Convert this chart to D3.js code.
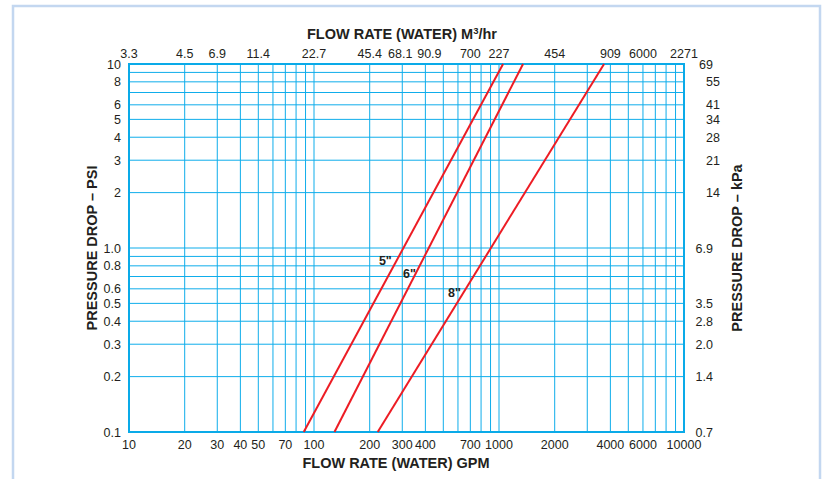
<!DOCTYPE html>
<html lang="en">
<head>
<meta charset="UTF-8">
<title>Pressure drop chart</title>
<style>
  html, body { margin: 0; padding: 0; background: #fff; }
  svg { display: block; }
  text { font-family: "Liberation Sans", Arial, Helvetica, sans-serif; fill: #231f20; }
</style>
</head>
<body>
<svg id="chart" width="823" height="479"></svg>
<script src="https://d3js.org/d3.v7.min.js"></script>
<script>
// bottom axis (GPM)
const gpmTicks = [10, 20, 30, 40, 50, 70, 100, 200, 300, 400, 700, 1000, 2000, 4000, 6000, 10000];
// top axis labels (as printed) and the GPM values they sit at
const m3hrLabels = ["3.3", "4.5", "6.9", "11.4", "22.7", "45.4", "68.1", "90.9", "700", "227", "454", "909", "6000", "2271"];
const m3hrAt = [10, 20, 30, 50, 100, 200, 300, 400, 700, 1000, 2000, 4000, 6000, 10000];
// left axis (PSI)
const psiTicks = [10, 8, 6, 5, 4, 3, 2, 1, 0.8, 0.6, 0.5, 0.4, 0.3, 0.2, 0.1];
const psiLabels = ["10", "8", "6", "5", "4", "3", "2", "1.0", "0.8", "0.6", "0.5", "0.4", "0.3", "0.2", "0.1"];
// right axis (kPa) and the PSI values they sit at
const kpaLabels = ["69", "55", "41", "34", "28", "21", "14", "6.9", "3.5", "2.8", "2.0", "1.4", "0.7"];
const kpaAt = [10, 8, 6, 5, 4, 3, 2, 1, 0.5, 0.4, 0.3, 0.2, 0.1];

// pipe curves: flow (GPM) at 0.1 psi and at 10 psi
const pipes = ["5\"", "6\"", "8\""];
const gpmAtLow = [88, 129, 221];
const gpmAtHigh = [1052, 1349, 3698];
// where each pipe label sits (GPM, PSI)
const labelGpm = [243, 328, 574];
const labelPsi = [0.81, 0.69, 0.54];

const svg = d3.select("#chart");
const plotL = 129, plotR = 684, plotT = 64, plotB = 432;

const x = d3.scaleLog().domain([10, 10000]).range([plotL, plotR]);
const y = d3.scaleLog().domain([0.1, 10]).range([plotB, plotT]);

// outer frame
svg.append("rect")
  .attr("x", 13).attr("y", 6)
  .attr("width", 807).attr("height", 490)
  .attr("fill", "none")
  .attr("stroke", "#c3d7f0")
  .attr("stroke-width", 2.5);

// grid lines at every log step
const xGrid = [];
[10, 100, 1000].forEach(d => { for (let k = 1; k < 10; k++) xGrid.push(d * k); });
const yGrid = [];
[0.1, 1].forEach(d => { for (let k = 1; k < 10; k++) yGrid.push(d * k); });

const grid = svg.append("g").attr("stroke", "#0fadeb").attr("stroke-width", 1);
grid.selectAll("line.v").data(xGrid).join("line")
  .attr("class", "v")
  .attr("x1", d => x(d)).attr("x2", d => x(d))
  .attr("y1", plotT).attr("y2", plotB);
grid.selectAll("line.h").data(yGrid).join("line")
  .attr("class", "h")
  .attr("x1", plotL).attr("x2", plotR)
  .attr("y1", d => y(d)).attr("y2", d => y(d));

svg.append("rect")
  .attr("x", plotL).attr("y", plotT)
  .attr("width", plotR - plotL).attr("height", plotB - plotT)
  .attr("fill", "none")
  .attr("stroke", "#0aaae8")
  .attr("stroke-width", 2);

// pipe lines
const line = d3.line().x(d => x(d[0])).y(d => y(d[1]));
svg.append("g").selectAll("path")
  .data(pipes.map((p, i) => [[gpmAtLow[i], 0.1], [gpmAtHigh[i], 10]]))
  .join("path")
    .attr("d", line)
    .attr("fill", "none")
    .attr("stroke", "#ed1c24")
    .attr("stroke-width", 2);

svg.append("g").selectAll("text")
  .data(pipes)
  .join("text")
    .attr("x", (d, i) => x(labelGpm[i]))
    .attr("y", (d, i) => y(labelPsi[i]))
    .attr("text-anchor", "middle")
    .style("font-size", "12.5px")
    .style("font-weight", "bold")
    .text(d => d);

// tick labels
const fs = "12.5px";
svg.append("g").selectAll("text")
  .data(gpmTicks)
  .join("text")
    .attr("x", d => x(d))
    .attr("y", 449)
    .attr("text-anchor", "middle")
    .style("font-size", fs)
    .text(d => d);

// the printed top labels around 300-400 GPM are pushed apart a little
const topNudge = { "68.1": -2, "90.9": 4 };
svg.append("g").selectAll("text")
  .data(m3hrLabels)
  .join("text")
    .attr("x", (d, i) => x(m3hrAt[i]) + (topNudge[d] || 0))
    .attr("y", 57.5)
    .attr("text-anchor", "middle")
    .style("font-size", fs)
    .text(d => d);

svg.append("g").selectAll("text")
  .data(psiLabels)
  .join("text")
    .attr("x", 121)
    .attr("y", (d, i) => y(psiTicks[i]))
    .attr("dy", "0.36em")
    .attr("text-anchor", "end")
    .style("font-size", fs)
    .text(d => d);

svg.append("g").selectAll("text")
  .data(kpaLabels)
  .join("text")
    .attr("x", (d, i) => i === 0 ? 713 : (d.includes(".") ? 713 : 720))
    .attr("y", (d, i) => y(kpaAt[i]))
    .attr("dy", "0.36em")
    .attr("text-anchor", "end")
    .style("font-size", fs)
    .text(d => d);

// axis titles
const titleSize = "14.5px";
const topTitle = svg.append("text")
  .attr("x", 402).attr("y", 39)
  .attr("text-anchor", "middle")
  .style("font-size", titleSize).style("font-weight", "bold");
topTitle.append("tspan").text("FLOW RATE (WATER) M");
topTitle.append("tspan").attr("dy", -5).style("font-size", "9.5px").text("3");
topTitle.append("tspan").attr("dy", 5).text("/hr");

svg.append("text")
  .attr("x", 396).attr("y", 468)
  .attr("text-anchor", "middle")
  .style("font-size", titleSize).style("font-weight", "bold")
  .text("FLOW RATE (WATER) GPM");

svg.append("text")
  .attr("transform", "translate(97,248) rotate(-90)")
  .attr("text-anchor", "middle")
  .style("font-size", titleSize).style("font-weight", "bold")
  .text("PRESSURE DROP – PSI");

svg.append("text")
  .attr("transform", "translate(742,248) rotate(-90)")
  .attr("text-anchor", "middle")
  .style("font-size", titleSize).style("font-weight", "bold")
  .text("PRESSURE DROP – kPa");
</script>
</body>
</html>
